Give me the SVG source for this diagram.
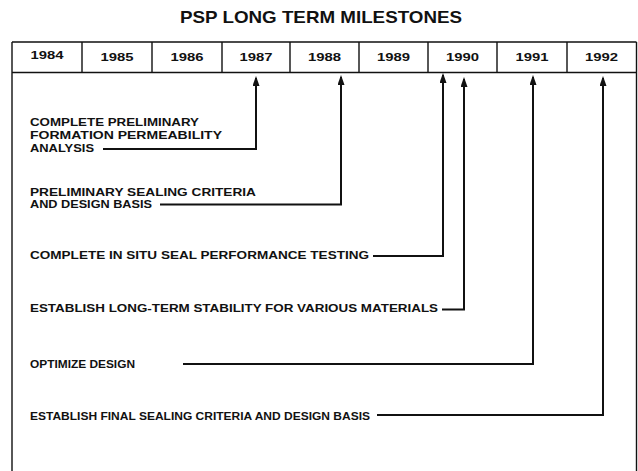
<svg xmlns="http://www.w3.org/2000/svg" width="638" height="471" viewBox="0 0 638 471">
<style>
.t{font-family:"Liberation Sans",Arial,sans-serif;font-weight:bold;fill:#111}
.title{font-size:17px}
.yr{font-size:11.5px;text-anchor:middle}
.lbl{font-size:10.5px}
.lbl2{font-size:10px}
.box{fill:none;stroke:#111;stroke-width:1.4}
.con{fill:none;stroke:#111;stroke-width:2}
</style>
<defs>
<marker id="ah" viewBox="0 0 10 7" refX="8" refY="3.5" markerWidth="10" markerHeight="7" markerUnits="userSpaceOnUse" orient="auto">
<path d="M0,0 L10,3.5 L0,7 z" fill="#111"/>
</marker>
</defs>
<rect width="638" height="471" fill="#fff"/>
<text class="t title" x="321" y="23" text-anchor="middle" textLength="282" lengthAdjust="spacingAndGlyphs">PSP LONG TERM MILESTONES</text>

<g id="timeline">
<path class="box" d="M12,42 H636.5 M12,72.5 H636.5 M12,42 V471 M636.5,42 V471 M82,42 V72.5 M152,42 V72.5 M222,42 V72.5 M290,42 V72.5 M359,42 V72.5 M428,42 V72.5 M497,42 V72.5 M567,42 V72.5"/>
<text class="t yr" x="47" y="59" textLength="33" lengthAdjust="spacingAndGlyphs">1984</text>
<text class="t yr" x="117" y="61" textLength="33" lengthAdjust="spacingAndGlyphs">1985</text>
<text class="t yr" x="187" y="61" textLength="33" lengthAdjust="spacingAndGlyphs">1986</text>
<text class="t yr" x="256" y="61" textLength="33" lengthAdjust="spacingAndGlyphs">1987</text>
<text class="t yr" x="324.5" y="61" textLength="33" lengthAdjust="spacingAndGlyphs">1988</text>
<text class="t yr" x="393.5" y="61" textLength="33" lengthAdjust="spacingAndGlyphs">1989</text>
<text class="t yr" x="462.5" y="61" textLength="33" lengthAdjust="spacingAndGlyphs">1990</text>
<text class="t yr" x="532" y="61" textLength="33" lengthAdjust="spacingAndGlyphs">1991</text>
<text class="t yr" x="601.5" y="61" textLength="33" lengthAdjust="spacingAndGlyphs">1992</text>
</g>

<g id="m1">
<text class="t lbl" x="30" y="126" textLength="169" lengthAdjust="spacingAndGlyphs">COMPLETE PRELIMINARY</text>
<text class="t lbl" x="30" y="139" textLength="192" lengthAdjust="spacingAndGlyphs">FORMATION PERMEABILITY</text>
<text class="t lbl" x="30" y="152" textLength="64" lengthAdjust="spacingAndGlyphs">ANALYSIS</text>
</g>
<g id="m2">
<text class="t lbl" x="30" y="196" textLength="226" lengthAdjust="spacingAndGlyphs">PRELIMINARY SEALING CRITERIA</text>
<text class="t lbl" x="30" y="207.5" textLength="122" lengthAdjust="spacingAndGlyphs">AND DESIGN BASIS</text>
</g>
<g id="m3">
<text class="t lbl" x="30" y="259" textLength="339" lengthAdjust="spacingAndGlyphs">COMPLETE IN SITU SEAL PERFORMANCE TESTING</text>
</g>
<g id="m4">
<text class="t lbl" x="30" y="312" textLength="408" lengthAdjust="spacingAndGlyphs">ESTABLISH LONG-TERM STABILITY FOR VARIOUS MATERIALS</text>
</g>
<g id="m5">
<text class="t lbl2" x="30" y="368" textLength="105" lengthAdjust="spacingAndGlyphs">OPTIMIZE DESIGN</text>
</g>
<g id="m6">
<text class="t lbl2" x="30" y="419.5" textLength="340" lengthAdjust="spacingAndGlyphs">ESTABLISH FINAL SEALING CRITERIA AND DESIGN BASIS</text>
</g>

<g id="connectors">
<path class="con" marker-end="url(#ah)" d="M103,149 H256 V78"/>
<path class="con" marker-end="url(#ah)" d="M160,204.5 H341 V77"/>
<path class="con" marker-end="url(#ah)" d="M373,256 H443 V75"/>
<path class="con" marker-end="url(#ah)" d="M442,309.5 H464 V79"/>
<path class="con" marker-end="url(#ah)" d="M183,364 H533 V77"/>
<path class="con" marker-end="url(#ah)" d="M377,415 H603 V78"/>
</g>
</svg>
